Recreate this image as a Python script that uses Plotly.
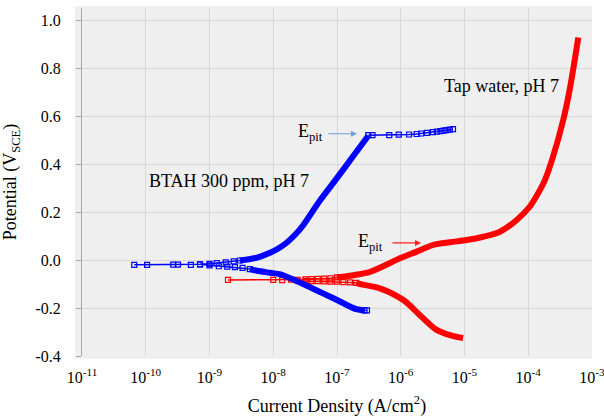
import plotly.graph_objects as go

# ---------------- data (current density A/cm^2, potential V_SCE) ----------------
# BTAH 300 ppm, pH 7 (blue)
btah_low_i = [6.6e-11, 1.05e-10, 2.7e-10, 3.2e-10, 5.1e-10, 7.1e-10, 1.0e-9, 1.3e-9, 1.8e-9, 2.4e-9, 3.0e-9]
btah_low_E = [-0.020, -0.020, -0.019, -0.019, -0.020, -0.018, -0.016, -0.013, -0.010, -0.006, -0.002]

btah_anodic_i = [3.0e-9, 5.6e-9, 8.9e-9, 1.2e-8, 1.62e-8, 2.2e-8, 2.95e-8, 5.4e-8, 9.9e-8, 1.8e-7, 3.1e-7]
btah_anodic_E = [-0.002, 0.010, 0.030, 0.048, 0.072, 0.105, 0.145, 0.248, 0.340, 0.433, 0.518]

btah_pit_i = [3.1e-7, 3.6e-7, 6.6e-7, 9.3e-7, 1.35e-6, 1.78e-6, 2.1e-6, 2.57e-6, 3.2e-6,
              3.7e-6, 4.2e-6, 4.7e-6, 5.2e-6, 5.9e-6, 6.6e-6]
btah_pit_E = [0.520, 0.520, 0.520, 0.522, 0.523, 0.525, 0.527, 0.530, 0.533,
              0.535, 0.537, 0.539, 0.541, 0.543, 0.545]

btah_cath_sparse_i = [7.1e-10, 1.0e-9, 1.4e-9, 1.9e-9, 2.5e-9, 3.3e-9, 4.3e-9]
btah_cath_sparse_E = [-0.018, -0.022, -0.026, -0.028, -0.030, -0.033, -0.038]

btah_cath_i = [4.3e-9, 5.6e-9, 8.9e-9, 1.3e-8, 2.95e-8, 1.0e-7, 2.0e-7, 2.7e-7]
btah_cath_E = [-0.038, -0.045, -0.053, -0.060, -0.100, -0.167, -0.205, -0.210]

btah_cath_end_i = [2.7e-7, 2.95e-7]
btah_cath_end_E = [-0.210, -0.210]

# Tap water, pH 7 (red)
tap_start_i = [1.95e-9, 1.0e-8, 1.38e-8, 1.9e-8, 2.4e-8, 3.2e-8, 4.0e-8, 5.0e-8, 6.3e-8, 7.9e-8, 1.0e-7]
tap_start_E = [-0.083, -0.083, -0.084, -0.082, -0.083, -0.081, -0.080, -0.079, -0.078, -0.076, -0.072]

tap_lowrow_i = [2.4e-8, 3.2e-8, 4.0e-8, 5.0e-8, 6.3e-8, 7.9e-8, 1.0e-7, 1.26e-7, 1.6e-7, 2.0e-7]
tap_lowrow_E = [-0.086, -0.087, -0.088, -0.088, -0.089, -0.090, -0.090, -0.092, -0.093, -0.095]

tap_anodic_i = [1.0e-7, 3.3e-7, 9.7e-7, 1.78e-6, 3.24e-6, 5.9e-6, 1.08e-5, 1.97e-5, 3.6e-5,
                6.6e-5, 1.06e-4, 1.53e-4, 1.83e-4, 2.45e-4, 3.55e-4, 4.47e-4, 6.1e-4]
tap_anodic_E = [-0.072, -0.049, 0.007, 0.035, 0.063, 0.074, 0.083, 0.097, 0.118,
                0.167, 0.223, 0.292, 0.334, 0.431, 0.585, 0.710, 0.927]

tap_cath_i = [2.0e-7, 2.3e-7, 4.7e-7, 1.1e-6, 2.0e-6, 3.6e-6, 6.3e-6, 9.5e-6]
tap_cath_E = [-0.095, -0.100, -0.118, -0.167, -0.230, -0.290, -0.315, -0.325]

x_tickvals = [1e-11, 1e-10, 1e-9, 1e-8, 1e-7, 1e-6, 1e-5, 1e-4, 1e-3]
x_ticktext = ["10<sup>-11</sup>", "10<sup>-10</sup>", "10<sup>-9</sup>", "10<sup>-8</sup>",
              "10<sup>-7</sup>", "10<sup>-6</sup>", "10<sup>-5</sup>", "10<sup>-4</sup>",
              "10<sup>-3</sup>"]
y_tickvals = [-0.4, -0.2, 0.0, 0.2, 0.4, 0.6, 0.8, 1.0]
y_ticktext = ["-0.4", "-0.2", "0.0", "0.2", "0.4", "0.6", "0.8", "1.0"]

# ---------------- figure ----------------
BLUE = "#0000ff"
RED = "#ff0000"
FONT = "Liberation Serif, Times New Roman, DejaVu Serif, serif"

fig = go.Figure()

def sparse(x, y, color):
    fig.add_trace(go.Scatter(x=x, y=y, mode="lines+markers",
                             line=dict(color=color, width=1.5),
                             marker=dict(symbol="square-open", size=5, color=color,
                                         line=dict(width=1.2, color=color)),
                             showlegend=False, hoverinfo="skip"))

def dense(x, y, color):
    fig.add_trace(go.Scatter(x=x, y=y, mode="lines",
                             line=dict(color=color, width=6, shape="spline", smoothing=0.8),
                             showlegend=False, hoverinfo="skip"))

sparse(tap_start_i, tap_start_E, RED)
sparse(tap_lowrow_i, tap_lowrow_E, RED)
dense(tap_anodic_i, tap_anodic_E, RED)
dense(tap_cath_i, tap_cath_E, RED)

sparse(btah_low_i, btah_low_E, BLUE)
sparse(btah_cath_sparse_i, btah_cath_sparse_E, BLUE)
dense(btah_anodic_i, btah_anodic_E, BLUE)
dense(btah_cath_i, btah_cath_E, BLUE)
sparse(btah_cath_end_i, btah_cath_end_E, BLUE)
sparse(btah_pit_i, btah_pit_E, BLUE)

annotations = [
    dict(x=-8.70, y=0.33, text="BTAH 300 ppm, pH 7", showarrow=False,
         font=dict(family=FONT, size=18, color="#000000"), xanchor="center", yanchor="middle"),
    dict(x=-4.42, y=0.727, text="Tap water, pH 7", showarrow=False,
         font=dict(family=FONT, size=18, color="#000000"), xanchor="center", yanchor="middle"),
    dict(x=-7.41, y=0.53, text="E<sub>pit</sub>", showarrow=False,
         font=dict(family=FONT, size=18, color="#000000"), xanchor="center", yanchor="middle"),
    dict(x=-6.48, y=0.075, text="E<sub>pit</sub>", showarrow=False,
         font=dict(family=FONT, size=18, color="#000000"), xanchor="center", yanchor="middle"),
    dict(x=-6.686, y=0.526, text="", showarrow=True, ax=-30, ay=0,
         arrowhead=2, arrowsize=1, arrowwidth=1.2, arrowcolor="#6f9fe0"),
    dict(x=-5.682, y=0.071, text="", showarrow=True, ax=-30, ay=0,
         arrowhead=2, arrowsize=1, arrowwidth=1.2, arrowcolor="#ff2020"),
]

fig.update_layout(
    width=604, height=417,
    margin=dict(l=82, r=12, t=8, b=61, autoexpand=False),
    paper_bgcolor="#ffffff",
    plot_bgcolor="#efefef",
    font=dict(family=FONT, size=16, color="#000000"),
    annotations=annotations,
    shapes=[dict(type="rect", xref="paper", yref="paper", x0=-0.014, x1=1.0, y0=-0.008, y1=1.006,
                 fillcolor="#efefef", line=dict(width=0), layer="below")],
)

fig.update_xaxes(type="log", range=[-11, -3], tickvals=x_tickvals, ticktext=x_ticktext,
                 automargin=False, ticklabeloverflow="allow",
                 showgrid=True, gridcolor="#d9d9d9", gridwidth=1, zeroline=False,
                 showline=False, ticks="", ticklabelstandoff=10,
                 tickfont=dict(family=FONT, size=16),
                 title=dict(text="Current Density (A/cm<sup>2</sup>)",
                            font=dict(family=FONT, size=18), standoff=16))

fig.update_yaxes(range=[-0.4, 1.05], tickvals=y_tickvals, ticktext=y_ticktext,
                 automargin=False,
                 showgrid=True, gridcolor="#d9d9d9", gridwidth=1, zeroline=False,
                 showline=True, linecolor="#a6a6a6", linewidth=1,
                 ticks="outside", ticklen=5, tickcolor="#a6a6a6",
                 ticklabelstandoff=12,
                 tickfont=dict(family=FONT, size=16),
                 title=dict(text="Potential (V<sub>SCE</sub>)",
                            font=dict(family=FONT, size=18), standoff=14))

fig.write_html("out.html", config={"displayModeBar": False},
               post_script="document.body.style.margin='0';document.body.style.padding='0';")
